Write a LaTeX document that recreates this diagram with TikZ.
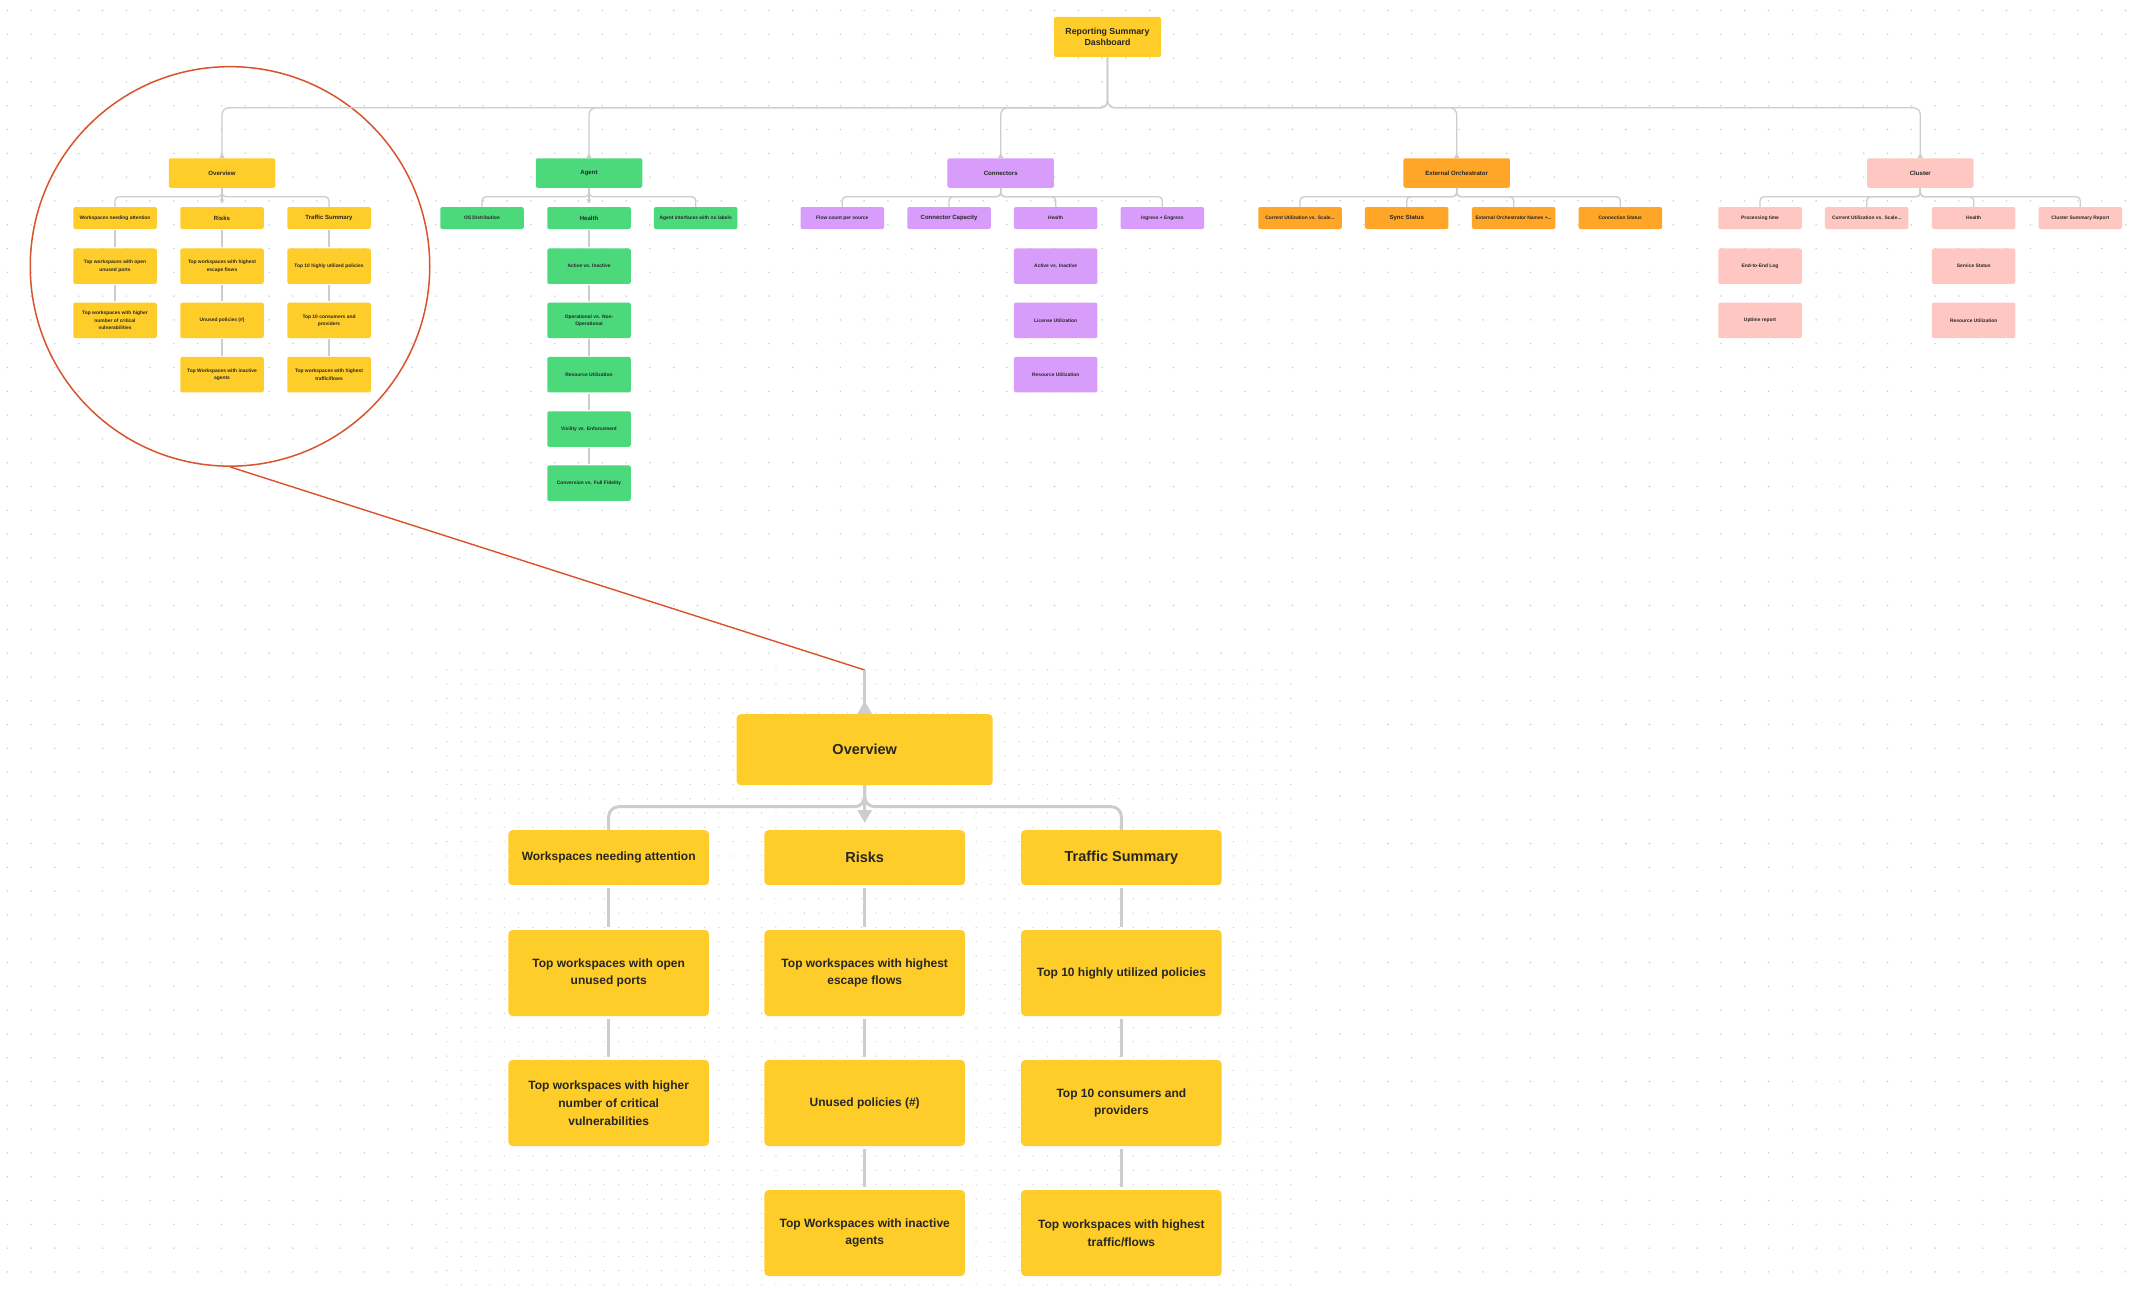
\documentclass[tikz,border=0pt]{standalone}
\usepackage{fontspec}
\setmainfont{Liberation Sans}
\usetikzlibrary{arrows.meta}
\definecolor{cy}{HTML}{FFCD29}
\definecolor{cg}{HTML}{4CD97B}
\definecolor{cp}{HTML}{D89CFA}
\definecolor{co}{HTML}{FFA629}
\definecolor{ck}{HTML}{FFC7C2}
\definecolor{txt}{HTML}{262626}
\definecolor{lgray}{HTML}{CDCDCD}
\definecolor{dotc}{HTML}{C8C8C8}
\definecolor{redc}{HTML}{D9532D}
\newcommand\fRoot{\fontsize{8.8}{11.7}\selectfont\bfseries}
\newcommand\fL{\fontsize{6.1}{8}\selectfont\bfseries}
\newcommand\fH{\fontsize{6}{8}\selectfont\bfseries}
\newcommand\fB{\fontsize{4.9}{7.3}\selectfont\bfseries}
\newcommand\fBH{\fontsize{14.5}{18}\selectfont\bfseries}
\newcommand\fBB{\fontsize{12}{17.7}\selectfont\bfseries}
\tikzset{
  box/.style={rectangle, rounded corners=2pt, inner sep=0pt, align=center, text=txt},
  rootbox/.style={box, minimum width=107pt, minimum height=40pt, font=\fRoot},
  lone/.style={box, minimum width=106.5pt, minimum height=29.5pt, font=\fL},
  ltwo/.style={box, minimum width=83.5pt, minimum height=22pt, font=\fB},
  ltwoh/.style={ltwo, font=\fH},
  lrow/.style={box, minimum width=83.5pt, minimum height=35.5pt, font=\fB},
  bigone/.style={box, rounded corners=4pt, minimum width=256pt, minimum height=71pt, font=\fBH},
  bigtwo/.style={box, rounded corners=4pt, minimum width=200.5pt, minimum height=55pt, font=\fBB},
  bigtwoh/.style={bigtwo, font=\fBH},
  bigrow/.style={box, rounded corners=4pt, minimum width=200.5pt, minimum height=86pt, font=\fBB},
  conn/.style={draw=lgray, line width=1.3pt},
  bigconn/.style={draw=lgray, line width=3pt},
  dotrow/.style={draw=dotc, line width=1.6pt, line cap=round, dash pattern=on 0pt off 23.8pt},
  dotrowd/.style={draw=dotc, line width=1.3pt, line cap=round, dash pattern=on 0pt off 14.3pt},
  upTip/.style={-{Triangle[reversed,width=5pt,length=5pt]}},
  downTip/.style={-{Triangle[width=4.5pt,length=4.5pt]}, shorten >=3pt},
}
\begin{document}
\begin{tikzpicture}[x=1pt,y=-1pt]
\useasboundingbox (0,0) rectangle (2138,1290);
\fill[white] (0,0) rectangle (2138,1290);
% dot grid
\foreach \k in {0,...,53} \draw[dotrow] (7.3,10.5+23.8*\k) -- (2138,10.5+23.8*\k);
\fill[white] (443,665) rectangle (1296,1290);
\foreach \k in {0,...,43} \draw[dotrowd] (447,670+14.3*\k) -- (1296,670+14.3*\k);

% ---------- root ----------
\node[rootbox, fill=cy] (root) at (1107.5,37) {Reporting Summary\\Dashboard};

% ---------- level 1 ----------
\node[lone, fill=cy] (ov) at (222,173) {Overview};
\node[lone, fill=cg] (ag) at (589,173) {Agent};
\node[lone, fill=cp] (cn) at (1000.7,173) {Connectors};
\node[lone, fill=co] (eo) at (1456.7,173) {External Orchestrator};
\node[lone, fill=ck] (cl) at (1920.3,173) {Cluster};

% ---------- Overview (small) ----------
\node[ltwo, fill=cy] (ovA) at (115,218) {Workspaces needing attention};
\node[ltwoh, fill=cy] (ovB) at (222,218) {Risks};
\node[ltwoh, fill=cy] (ovC) at (329,218) {Traffic Summary};
\node[lrow, fill=cy] (ovA3) at (115,266.2) {Top workspaces with open\\unused ports};
\node[lrow, fill=cy] (ovA4) at (115,320.4) {Top workspaces with higher\\number of critical\\vulnerabilities};
\node[lrow, fill=cy] (ovB3) at (222,266.2) {Top workspaces with highest\\escape flows};
\node[lrow, fill=cy] (ovB4) at (222,320.4) {Unused policies (\#)};
\node[lrow, fill=cy] (ovB5) at (222,374.7) {Top Workspaces with inactive\\agents};
\node[lrow, fill=cy] (ovC3) at (329,266.2) {Top 10 highly utilized policies};
\node[lrow, fill=cy] (ovC4) at (329,320.4) {Top 10 consumers and\\providers};
\node[lrow, fill=cy] (ovC5) at (329,374.7) {Top workspaces with highest\\traffic/flows};

% ---------- Agent ----------
\node[ltwo, fill=cg] (agA) at (482,218) {OS Distribution};
\node[ltwoh, fill=cg] (agB) at (589,218) {Health};
\node[ltwo, fill=cg] (agC) at (695.7,218) {Agent interfaces with no labels};
\node[lrow, fill=cg] (agB3) at (589,266.2) {Active vs. Inactive};
\node[lrow, fill=cg] (agB4) at (589,320.4) {Operational vs. Non-\\Operational};
\node[lrow, fill=cg] (agB5) at (589,374.7) {Resource Utilization};
\node[lrow, fill=cg] (agB6) at (589,429) {Visility vs. Enforcement};
\node[lrow, fill=cg] (agB7) at (589,483.2) {Conversion vs. Full Fidelity};

% ---------- Connectors ----------
\node[ltwo, fill=cp] (cnA) at (842.3,218) {Flow count per source};
\node[ltwoh, fill=cp] (cnB) at (949,218) {Connector Capacity};
\node[ltwo, fill=cp] (cnC) at (1055.7,218) {Health};
\node[ltwo, fill=cp] (cnD) at (1162.3,218) {Ingress + Engress};
\node[lrow, fill=cp] (cnC3) at (1055.7,266.2) {Active vs. Inactive};
\node[lrow, fill=cp] (cnC4) at (1055.7,320.4) {License Utilization};
\node[lrow, fill=cp] (cnC5) at (1055.7,374.7) {Resource Utilization};

% ---------- External Orchestrator ----------
\node[ltwo, fill=co] (eoA) at (1300,218) {Current Utilization vs. Scale...};
\node[ltwoh, fill=co] (eoB) at (1406.7,218) {Sync Status};
\node[ltwo, fill=co] (eoC) at (1513.7,218) {External Orchestrator Names +...};
\node[ltwo, fill=co] (eoD) at (1620.3,218) {Connection Status};

% ---------- Cluster ----------
\node[ltwo, fill=ck] (clA) at (1760,218) {Processing time};
\node[ltwo, fill=ck] (clB) at (1866.7,218) {Current Utilization vs. Scale...};
\node[ltwo, fill=ck] (clC) at (1973.7,218) {Health};
\node[ltwo, fill=ck] (clD) at (2080.3,218) {Cluster Summary Report};
\node[lrow, fill=ck] (clA3) at (1760,266.2) {End-to-End Log};
\node[lrow, fill=ck] (clA4) at (1760,320.4) {Uptime report};
\node[lrow, fill=ck] (clC3) at (1973.7,266.2) {Service Status};
\node[lrow, fill=ck] (clC4) at (1973.7,320.4) {Resource Utilization};

% ---------- Big Overview ----------
\node[bigone, fill=cy] (bov) at (864.7,749.7) {Overview};
\node[bigtwo, fill=cy] (bA) at (608.7,857.7) {Workspaces needing attention};
\node[bigtwoh, fill=cy] (bB) at (864.7,857.7) {Risks};
\node[bigtwoh, fill=cy] (bC) at (1121.4,857.7) {Traffic Summary};
\node[bigrow, fill=cy] (bA3) at (608.7,973) {Top workspaces with open\\unused ports};
\node[bigrow, fill=cy] (bA4) at (608.7,1103) {Top workspaces with higher\\number of critical\\vulnerabilities};
\node[bigrow, fill=cy] (bB3) at (864.7,973) {Top workspaces with highest\\escape flows};
\node[bigrow, fill=cy] (bB4) at (864.7,1103) {Unused policies (\#)};
\node[bigrow, fill=cy] (bB5) at (864.7,1233) {Top Workspaces with inactive\\agents};
\node[bigrow, fill=cy] (bC3) at (1121.4,973) {Top 10 highly utilized policies};
\node[bigrow, fill=cy] (bC4) at (1121.4,1103) {Top 10 consumers and\\providers};
\node[bigrow, fill=cy] (bC5) at (1121.4,1233) {Top workspaces with highest\\traffic/flows};

% ---------- zoom ring ----------
\node[circle, draw=redc, line width=1.5pt, minimum size=399.5pt, inner sep=0pt] (ring) at (230,266.4) {};
\coordinate (zt) at (864.7,670);
\draw[redc, line width=1.4pt] (ring.south) -- (zt);

% ---------- connectors: root ----------
\coordinate (bus0) at (1107.5,107.7);
\foreach \n in {ov,ag,cn,eo,cl}
  \draw[conn, rounded corners=7pt, upTip] (root.south) |- (\n.north |- bus0) -- (\n.north);

% ---------- connectors: level 2 ----------
\coordinate (busov) at (222,196.7);
\coordinate (busag) at (589,196.7);
\coordinate (buscn) at (1000.7,196.7);
\coordinate (buseo) at (1456.7,196.7);
\coordinate (buscl) at (1920.3,196.7);
\foreach \c in {ovA,ovC} \draw[conn, rounded corners=4pt] (ov.south) |- (\c.north |- busov) -- (\c.north);
\draw[conn, downTip] (ov.south) -- (ovB.north);
\foreach \c in {agA,agC} \draw[conn, rounded corners=4pt] (ag.south) |- (\c.north |- busag) -- (\c.north);
\draw[conn, downTip] (ag.south) -- (agB.north);
\foreach \c in {cnA,cnB,cnC,cnD} \draw[conn, rounded corners=4pt] (cn.south) |- (\c.north |- buscn) -- (\c.north);
\foreach \c in {eoA,eoB,eoC,eoD} \draw[conn, rounded corners=4pt] (eo.south) |- (\c.north |- buseo) -- (\c.north);
\foreach \c in {clA,clB,clC,clD} \draw[conn, rounded corners=4pt] (cl.south) |- (\c.north |- buscl) -- (\c.north);

% ---------- columns (small) ----------
\foreach \a/\b in {ovA/ovA3, ovA3/ovA4, ovB/ovB3, ovB3/ovB4, ovB4/ovB5, ovC/ovC3, ovC3/ovC4, ovC4/ovC5,
                   agB/agB3, agB3/agB4, agB4/agB5, agB5/agB6, agB6/agB7}
  \draw[conn, shorten <=1pt, shorten >=1pt] (\a) -- (\b);

% ---------- big connectors ----------
\draw[bigconn, -{Triangle[reversed,width=14pt,length=13pt]}] (zt) -- (bov.north);
\coordinate (busb) at (864.7,806.7);
\foreach \c in {bA,bC} \draw[bigconn, rounded corners=10pt] (bov.south) |- (\c.north |- busb) -- (\c.north);
\draw[bigconn, -{Triangle[width=14pt,length=13pt]}, shorten >=7pt] (bov.south) -- (bB.north);
\foreach \a/\b in {bA/bA3, bA3/bA4, bB/bB3, bB3/bB4, bB4/bB5, bC/bC3, bC3/bC4, bC4/bC5}
  \draw[bigconn, shorten <=3pt, shorten >=3pt] (\a) -- (\b);
\end{tikzpicture}
\end{document}
